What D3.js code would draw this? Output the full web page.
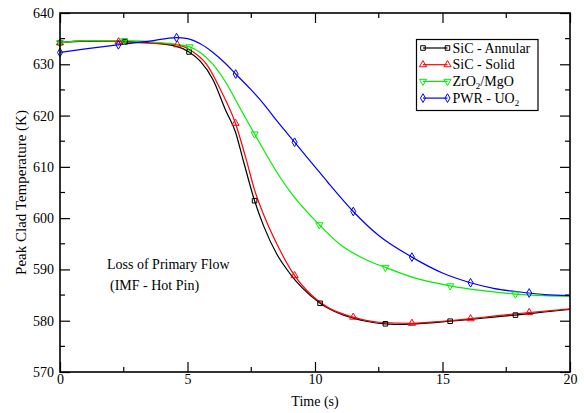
<!DOCTYPE html>
<html>
<head>
<meta charset="utf-8">
<script src="https://cdn.jsdelivr.net/npm/d3@7"></script>
<style>
  body { margin: 0; background: #fff; }
  svg text { font-family: "Liberation Serif", "Times New Roman", Times, "DejaVu Serif", serif; }
</style>
</head>
<body>
<div id="chart"></div>
<script>
var width = 584;
var height = 413;
var serif = "'Liberation Serif', 'Times New Roman', Times, 'DejaVu Serif', serif";

// line data: [time (s), temperature (K)]
var annularLine = [[0,634.2],[1,634.5],[2,634.5],[2.55,634.4],[3.5,634.2],[4.5,633.6],[5.06,632.4],[5.5,630.6],[6,627],[6.5,621],[6.88,616.8],[7.2,611],[7.63,603.4],[8,598.3],[8.5,593],[9,589.3],[9.5,586.4],[10.2,583.4],[11,581.3],[11.5,580.5],[12,579.9],[12.76,579.4],[13.5,579.3],[14,579.4],[15.3,579.9],[16,580.2],[17,580.7],[17.86,581.1],[19,581.7],[20,582.2]];
var solidLine = [[0,634.2],[1,634.6],[2.3,634.4],[3.5,634.1],[4.6,633.8],[5.2,632.5],[5.75,630],[6.3,625],[6.88,618.5],[7.3,611.5],[7.63,605.5],[8,600.5],[8.5,595],[9.2,588.8],[9.7,585.8],[10.5,582.6],[11.5,580.7],[12.5,579.7],[13.8,579.5],[15,579.9],[16.1,580.4],[17,580.9],[18.4,581.6],[20,582.3]];
var zrLine = [[0,634.2],[1,634.6],[2.52,634.6],[4,634.2],[5.08,633.4],[5.5,632.3],[6,630],[6.5,626.5],[7,622],[7.63,616.4],[8.5,609],[9,605.3],[10.17,598.7],[11,594.8],[12,591.9],[12.76,590.4],[14,588.2],[15.3,586.8],[16.5,585.9],[17.86,585.2],[19,584.9],[20,584.8]];
var pwrLine = [[0,632.3],[1,633],[2.29,633.8],[3.5,634.5],[4.57,635.2],[5,635],[5.5,634],[6,632.3],[6.5,630.1],[6.89,628.1],[7.5,625],[8,622.2],[8.5,619],[9.2,614.8],[10,610],[10.5,607],[11.5,601.3],[12.5,596.6],[13.8,592.4],[15,589.3],[16.1,587.4],[17,586.3],[18.4,585.4],[19,585.1],[20,584.9]];

// marker positions
var annularMarks = [[0,634.2],[2.55,634.4],[5.06,632.4],[7.63,603.4],[10.2,583.4],[12.76,579.4],[15.3,579.9],[17.86,581.1]];
var solidMarks = [[0,634.2],[2.3,634.4],[4.6,633.8],[6.88,618.5],[9.2,588.8],[11.5,580.7],[13.8,579.5],[16.1,580.4],[18.4,581.6]];
var zrMarks = [[0,634.2],[2.52,634.6],[5.08,633.4],[7.63,616.4],[10.17,598.7],[12.76,590.4],[15.3,586.8],[17.86,585.2]];
var pwrMarks = [[0,632.3],[2.29,633.8],[4.57,635.2],[6.89,628.1],[9.2,614.8],[11.5,601.3],[13.8,592.4],[16.1,587.4],[18.4,585.4]];

var xTicks = [0, 5, 10, 15, 20];
var xMinor = [2.5, 7.5, 12.5, 17.5];
var yTicks = [570, 580, 590, 600, 610, 620, 630, 640];
var yMinor = [575, 585, 595, 605, 615, 625, 635];

var series = [
  {name: "SiC - Annular", color: "#000000", symbol: d3.symbolSquare, rot: 0, line: annularLine, marks: annularMarks},
  {name: "SiC - Solid", color: "#ff0000", symbol: d3.symbolTriangle, rot: 0, line: solidLine, marks: solidMarks},
  {name: "ZrO|2|/MgO", color: "#00ee00", symbol: d3.symbolTriangle, rot: 180, line: zrLine, marks: zrMarks},
  {name: "PWR - UO|2", color: "#0000ff", symbol: d3.symbolDiamond, rot: 0, line: pwrLine, marks: pwrMarks}
];

var margin = {left: 60, right: 14, top: 13, bottom: 41};

var svg = d3.select("#chart").append("svg")
    .attr("width", width)
    .attr("height", height)
    .attr("font-family", serif);

var x = d3.scaleLinear().domain([0, 20]).range([margin.left, width - margin.right]);
var y = d3.scaleLinear().domain([570, 640]).range([height - margin.bottom, margin.top]);

var line = d3.line()
    .x(function(d) { return x(d[0]); })
    .y(function(d) { return y(d[1]); })
    .curve(d3.curveMonotoneX);

svg.append("clipPath").attr("id", "clip")
  .append("rect")
    .attr("x", x(0)).attr("y", y(640))
    .attr("width", x(20) - x(0)).attr("height", y(570) - y(640));

var g = svg.append("g").attr("clip-path", "url(#clip)");

series.forEach(function(s) {
  g.append("path")
      .attr("d", line(s.line))
      .attr("fill", "none")
      .attr("stroke", s.color)
      .attr("stroke-width", 1.2);
});

function symbolPath(s) {
  var size = s.symbol === d3.symbolDiamond ? 22 : (s.symbol === d3.symbolSquare ? 21 : 22);
  return d3.symbol().type(s.symbol).size(size)();
}

series.forEach(function(s) {
  svg.append("g").selectAll("path")
    .data(s.marks)
    .join("path")
      .attr("transform", function(d) { return "translate(" + x(d[0]) + "," + y(d[1]) + ") rotate(" + s.rot + ")"; })
      .attr("d", symbolPath(s))
      .attr("fill", "none")
      .attr("stroke", s.color)
      .attr("stroke-width", 1);
});

// axes: ticks pointing inward on all four sides
var xAxis = d3.axisBottom(x).tickValues(xTicks).tickSize(-10).tickPadding(4);
var yAxis = d3.axisLeft(y).tickValues(yTicks).tickSize(-10).tickPadding(6);

var gx = svg.append("g").attr("transform", "translate(0," + y(570) + ")").call(xAxis);
var gy = svg.append("g").attr("transform", "translate(" + x(0) + ",0)").call(yAxis);

gx.append("g").selectAll("line").data(xMinor).join("line")
    .attr("x1", function(d) { return x(d); }).attr("x2", function(d) { return x(d); })
    .attr("y1", 0).attr("y2", -5);
gy.append("g").selectAll("line").data(yMinor).join("line")
    .attr("y1", function(d) { return y(d); }).attr("y2", function(d) { return y(d); })
    .attr("x1", 0).attr("x2", 5);

var gt = svg.append("g").attr("transform", "translate(0," + y(640) + ")")
    .call(d3.axisTop(x).tickValues(xTicks).tickSize(-10).tickFormat(""));
gt.append("g").selectAll("line").data(xMinor).join("line")
    .attr("x1", function(d) { return x(d); }).attr("x2", function(d) { return x(d); })
    .attr("y1", 0).attr("y2", 5);
var gr = svg.append("g").attr("transform", "translate(" + x(20) + ",0)")
    .call(d3.axisRight(y).tickValues(yTicks).tickSize(-10).tickFormat(""));
gr.append("g").selectAll("line").data(yMinor).join("line")
    .attr("y1", function(d) { return y(d); }).attr("y2", function(d) { return y(d); })
    .attr("x1", 0).attr("x2", -5);

[gx, gy, gt, gr].forEach(function(a) {
  a.attr("font-family", serif).attr("font-size", 14);
  a.select(".domain").remove();
  a.selectAll("line").attr("stroke", "#000").attr("stroke-width", 1.2);
  a.selectAll("text").attr("fill", "#000");
});
gx.selectAll(".tick text").attr("dy", "0.6em");

svg.append("rect")
    .attr("x", x(0)).attr("y", y(640))
    .attr("width", x(20) - x(0)).attr("height", y(570) - y(640))
    .attr("fill", "none").attr("stroke", "#000").attr("stroke-width", 1.6);

svg.append("text")
    .attr("x", (x(0) + x(20)) / 2).attr("y", 406)
    .attr("text-anchor", "middle").attr("font-size", 14)
    .text("Time (s)");

svg.append("text")
    .attr("transform", "translate(26," + ((y(570) + y(640)) / 2) + ") rotate(-90)")
    .attr("text-anchor", "middle").attr("font-size", 15)
    .text("Peak Clad Temperature (K)");

svg.append("text").attr("x", 107).attr("y", 269).attr("font-size", 14).text("Loss of Primary Flow");
svg.append("text").attr("x", 110).attr("y", 290).attr("font-size", 14).text("(IMF - Hot Pin)");

// legend
var lg = svg.append("g");
lg.append("rect")
    .attr("x", 416.5).attr("y", 39.5).attr("width", 121.5).attr("height", 71)
    .attr("fill", "#fff").attr("stroke", "#000").attr("stroke-width", 1.2);

series.forEach(function(s, i) {
  var yy = 48 + i * 16.7;
  lg.append("line").attr("x1", 423).attr("x2", 447.5).attr("y1", yy).attr("y2", yy)
      .attr("stroke", s.color).attr("stroke-width", 1.2);
  [423, 447.5].forEach(function(px) {
    lg.append("path")
        .attr("transform", "translate(" + px + "," + yy + ") rotate(" + s.rot + ")")
        .attr("d", symbolPath(s))
        .attr("fill", "none").attr("stroke", s.color);
  });
  var t = lg.append("text").attr("x", 452.5).attr("y", yy + 4.5).attr("font-size", 14);
  var parts = s.name.split("|");
  t.append("tspan").text(parts[0]);
  if (parts.length > 1) {
    t.append("tspan").attr("font-size", 9).attr("dy", 3).text(parts[1]);
    if (parts[2]) t.append("tspan").attr("dy", -3).attr("font-size", 14).text(parts[2]);
  }
});
</script>
</body>
</html>
